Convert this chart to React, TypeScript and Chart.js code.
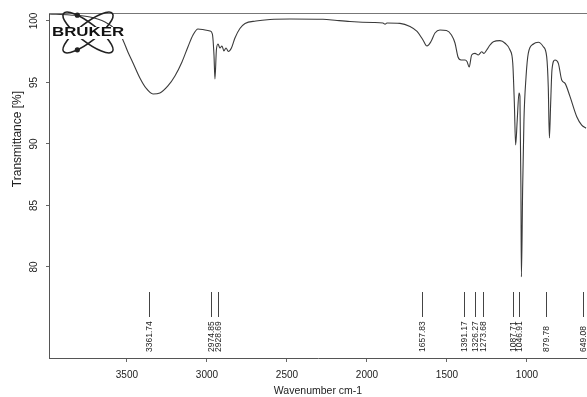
import React, { useEffect, useRef } from "react";
import { Chart, registerables } from "chart.js";

Chart.register(...registerables);

// Wavenumbers (cm-1) and transmittance (%)
const wavenumbers = [
  3987, 3856, 3731, 3637, 3575, 3531, 3494, 3462, 3419, 3381, 3337, 3294, 3244, 3200, 3156, 3119,
  3087, 3056, 3012, 2981, 2966, 2956, 2950, 2941, 2931, 2919, 2906, 2894, 2881, 2866, 2847, 2825,
  2794, 2762, 2694, 2606, 2481, 2275, 2187, 2106, 1962, 1900, 1887, 1875, 1794, 1731, 1687, 1650,
  1625, 1600, 1575, 1544, 1503, 1472, 1450, 1431, 1412, 1387, 1375, 1361, 1346, 1325, 1304, 1283,
  1269, 1252, 1231, 1210, 1169, 1137, 1106, 1089, 1079, 1071, 1061, 1050, 1044, 1038, 1035, 1027,
  1019, 1006, 992, 960, 929, 898, 877, 867, 860, 852, 844, 825, 804, 783, 762, 731, 689, 658, 631,
];
const transmittance = [
  100.57, 100.49, 100.33, 99.92, 99.35, 98.62, 97.48, 96.59, 95.37, 94.55, 94.07, 94.15, 94.72, 95.53, 96.67, 97.89,
  98.86, 99.35, 99.27, 99.19, 98.94, 97.24, 95.28, 97.64, 98.13, 97.8, 97.97, 97.56, 97.8, 97.52, 97.8, 98.62,
  99.39, 99.8, 100.0, 100.12, 100.16, 100.14, 100.04, 99.96, 99.88, 99.84, 99.74, 99.84, 99.81, 99.55, 99.15, 98.46,
  97.97, 98.33, 99.02, 99.27, 99.23, 98.86, 98.21, 97.07, 96.83, 96.83, 96.71, 96.26, 97.24, 97.37, 97.24, 97.5,
  97.37, 97.64, 98.05, 98.32, 98.4, 98.19, 97.64, 96.59, 93.33, 89.92, 91.95, 94.15, 93.85, 86.5, 79.2, 86.5,
  91.95, 95.45, 97.37, 98.13, 98.27, 97.91, 97.1, 94.63, 90.49, 93.33, 96.02, 96.83, 96.56, 95.2, 94.93, 93.85, 92.22, 91.54, 91.28,
];

const xTickValues = [3500, 3000, 2500, 2000, 1500, 1000];
const yTickValues = [80, 85, 90, 95, 100];
const peakPositions = [3361.74, 2974.85, 2928.69, 1657.83, 1391.17, 1326.27, 1273.68, 1087.71, 1046.91, 879.78, 649.08];
const peakLabels = ["3361.74", "2974.85", "2928.69", "1657.83", "1391.17", "1326.27", "1273.68", "1087.71", "1046.91", "879.78", "649.08"];
const xTitle = "Wavenumber cm-1";
const yTitle = "Transmittance [%]";
const logoText = "BRUKER";

const FONT = '"Liberation Sans", Arial, sans-serif';

const decorPlugin = {
  id: "decor",
  afterDraw(chart: any) {
    const { ctx, chartArea } = chart;
    const xs = chart.scales.x;
    ctx.save();
    // top frame line
    ctx.strokeStyle = "#777";
    ctx.lineWidth = 1;
    ctx.beginPath();
    ctx.moveTo(chartArea.left, chartArea.top + 0.5);
    ctx.lineTo(chartArea.right, chartArea.top + 0.5);
    ctx.stroke();

    // peak markers
    ctx.strokeStyle = "#444";
    ctx.fillStyle = "#222";
    ctx.font = `8.5px ${FONT}`;
    peakPositions.forEach((p, i) => {
      const px = Math.round(xs.getPixelForValue(p)) + 0.5;
      ctx.beginPath();
      ctx.moveTo(px, chartArea.bottom - 66);
      ctx.lineTo(px, chartArea.bottom - 41);
      ctx.stroke();
      ctx.save();
      ctx.translate(px, chartArea.bottom - 6);
      ctx.rotate(-Math.PI / 2);
      ctx.textAlign = "left";
      ctx.textBaseline = "middle";
      ctx.fillText(peakLabels[i], 0, 0);
      ctx.restore();
    });

    // axis titles
    ctx.fillStyle = "#222";
    ctx.font = `10.5px ${FONT}`;
    ctx.textAlign = "center";
    ctx.textBaseline = "middle";
    ctx.fillText(xTitle, (chartArea.left + chartArea.right) / 2, chartArea.bottom + 33);
    ctx.save();
    ctx.translate(17.5, chartArea.top + 126);
    ctx.rotate(-Math.PI / 2);
    ctx.font = `12px ${FONT}`;
    ctx.fillText(yTitle, 0, 0);
    ctx.restore();

    // logo
    const cx = chartArea.left + 39;
    const cy = chartArea.top + 19.5;
    ctx.strokeStyle = "#222";
    ctx.lineWidth = 1.6;
    const rot = (38 * Math.PI) / 180;
    ctx.beginPath();
    ctx.ellipse(cx, cy, 31, 9, rot, 0, Math.PI * 2);
    ctx.stroke();
    ctx.beginPath();
    ctx.ellipse(cx, cy, 31, 9, -rot, 0, Math.PI * 2);
    ctx.stroke();
    const dot = (r: number, t: number) => {
      const x = cx + 31 * Math.cos(t) * Math.cos(r) - 9 * Math.sin(t) * Math.sin(r);
      const y = cy + 31 * Math.cos(t) * Math.sin(r) + 9 * Math.sin(t) * Math.cos(r);
      ctx.beginPath();
      ctx.arc(x, y, 2.6, 0, Math.PI * 2);
      ctx.fillStyle = "#222";
      ctx.fill();
    };
    dot(rot, Math.atan2(-0.886, -0.691));
    dot(-rot, Math.atan2(0.886, -0.691));
    ctx.fillStyle = "#fff";
    ctx.fillRect(chartArea.left + 3, chartArea.top + 14, 74, 12);
    ctx.save();
    ctx.translate(chartArea.left + 3, chartArea.top + 20);
    ctx.scale(1.35, 1);
    ctx.fillStyle = "#111";
    ctx.font = `bold 12.5px ${FONT}`;
    ctx.textAlign = "left";
    ctx.textBaseline = "middle";
    ctx.fillText(logoText, 0, 0);
    ctx.restore();

    ctx.restore();
  },
};

export default function App() {
  const canvasRef = useRef<HTMLCanvasElement | null>(null);

  useEffect(() => {
    const canvas = canvasRef.current;
    if (!canvas) return;
    const points = wavenumbers.map((w, i) => ({ x: w, y: transmittance[i] }));
    const chart = new Chart(canvas, {
      type: "line",
      data: {
        datasets: [
          {
            data: points,
            borderColor: "#3a3a3a",
            borderWidth: 1.1,
            pointRadius: 0,
            fill: false,
            cubicInterpolationMode: "monotone",
          },
        ],
      },
      options: {
        responsive: false,
        animation: false,
        devicePixelRatio: 1,
        layout: { padding: { top: 13, right: 0, left: 0, bottom: 0 } },
        plugins: { legend: { display: false }, tooltip: { enabled: false }, title: { display: false } },
        scales: {
          x: {
            type: "linear",
            reverse: true,
            min: 625,
            max: 3987,
            afterBuildTicks: (s: any) => {
              s.ticks = xTickValues.map((v) => ({ value: v }));
            },
            afterFit: (s: any) => {
              s.height = 39;
            },
            grid: { drawOnChartArea: false, drawTicks: true, tickLength: 4, color: "#666" },
            border: { display: true, color: "#555", width: 1 },
            ticks: {
              callback: (v: any) => String(v),
              color: "#222",
              font: { family: FONT, size: 10 },
              padding: 7,
              maxRotation: 0,
              minRotation: 0,
              autoSkip: false,
            },
          },
          y: {
            type: "linear",
            min: 72.6,
            max: 100.65,
            afterBuildTicks: (s: any) => {
              s.ticks = yTickValues.map((v) => ({ value: v }));
            },
            afterFit: (s: any) => {
              s.width = 49;
            },
            grid: { drawOnChartArea: false, drawTicks: true, tickLength: 3, color: "#666" },
            border: { display: true, color: "#555", width: 1 },
            ticks: {
              callback: (v: any) => String(v),
              color: "#222",
              font: { family: FONT, size: 10 },
              padding: 3,
              minRotation: 90,
              maxRotation: 90,
              crossAlign: "center",
              autoSkip: false,
            },
          },
        },
      },
      plugins: [decorPlugin],
    } as any);
    return () => chart.destroy();
  }, []);

  return (
    <canvas
      ref={canvasRef}
      width={587}
      height={397}
      style={{ position: "fixed", left: 0, top: 0, display: "block", background: "#fff" }}
    />
  );
}
